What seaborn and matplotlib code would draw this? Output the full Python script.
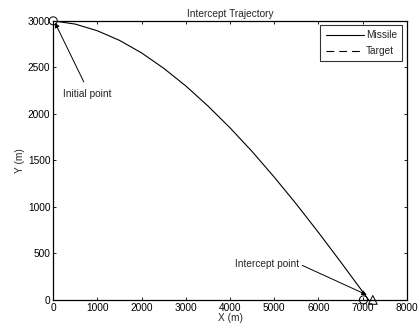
import matplotlib
matplotlib.use("Agg")
import matplotlib.pyplot as plt
import seaborn as sns
import pandas as pd

# Data
missile_x = [0, 500, 1000, 1500, 2000, 2500, 3000, 3500, 4000, 4500, 5000, 5500, 6000, 6500, 7000, 7135]
missile_y = [3000, 2965, 2893, 2790, 2655, 2490, 2300, 2085, 1850, 1595, 1320, 1030, 725, 410, 88, 0]
target_x = [7020, 7230]
target_y = [0, 0]
x_ticks = [0, 1000, 2000, 3000, 4000, 5000, 6000, 7000, 8000]
y_ticks = [0, 500, 1000, 1500, 2000, 2500, 3000]

sns.set_style("ticks", {"xtick.direction": "in", "ytick.direction": "in"})
plt.rcParams["font.family"] = ["Liberation Sans", "DejaVu Sans"]
plt.rcParams["font.size"] = 7.3

fig = plt.figure(figsize=(4.19, 3.31), dpi=100)
ax = fig.add_axes([0.127, 0.094, 0.844, 0.843])

dm = pd.DataFrame({"x": missile_x, "y": missile_y})
dt = pd.DataFrame({"x": target_x, "y": target_y})
sns.lineplot(data=dm, x="x", y="y", ax=ax, color="black", lw=0.8, sort=False,
             estimator=None, label="Missile")
sns.lineplot(data=dt, x="x", y="y", ax=ax, color="black", lw=0.8, sort=False,
             estimator=None, label="Target")
ax.lines[1].set_dashes([7, 4.5])
ax.lines[1].set_clip_on(False)

starts = pd.DataFrame({"x": [missile_x[0], target_x[0]], "y": [missile_y[0], target_y[0]]})
ends = pd.DataFrame({"x": [target_x[-1]], "y": [target_y[-1]]})
sns.scatterplot(data=starts, x="x", y="y", ax=ax, marker="o", s=34,
                facecolors="none", edgecolor="black", linewidth=0.7, zorder=5, legend=False)
sns.scatterplot(data=ends, x="x", y="y", ax=ax, marker="^", s=40,
                facecolors="none", edgecolor="black", linewidth=0.7, zorder=5, legend=False)
for c in ax.collections:
    c.set_clip_on(False)

ax.annotate("Initial point", xy=(40, 2980), xytext=(220, 2215),
            ha="left", va="center", fontsize=7.3,
            arrowprops=dict(arrowstyle="-|>", color="black", lw=0.7,
                            shrinkA=3, shrinkB=0, mutation_scale=7,
                            relpos=(0.5, 1.0)))
ax.annotate("Intercept point", xy=(7094, 54), xytext=(5560, 387),
            ha="right", va="center", fontsize=7.3,
            arrowprops=dict(arrowstyle="-|>", color="black", lw=0.7,
                            shrinkA=0, shrinkB=0, mutation_scale=7,
                            relpos=(1.0, 0.5)))

ax.set_xlim(0, 8000)
ax.set_ylim(0, 3000)
ax.set_xticks(x_ticks)
ax.set_yticks(y_ticks)
ax.tick_params(axis="both", which="both", direction="in", length=2.5, width=0.6,
               top=True, right=True, labelsize=7.3, pad=2, colors="black")
for s in ax.spines.values():
    s.set_color("black")
    s.set_linewidth(0.9)
ax.set_title("Intercept Trajectory", fontsize=7.3, pad=3)
ax.set_xlabel("X (m)", fontsize=7.3, labelpad=0)
ax.set_ylabel("Y (m)", fontsize=7.3, labelpad=2)

leg = ax.legend(loc="upper right", fontsize=7.3, frameon=True, fancybox=False,
                edgecolor="black", handlelength=3.8, borderpad=0.5,
                labelspacing=0.55, handletextpad=0.2, borderaxespad=0.45)
leg.get_frame().set_linewidth(0.8)
for h in leg.get_lines():
    h.set_color("black")

fig.savefig("out.png", dpi=100)
